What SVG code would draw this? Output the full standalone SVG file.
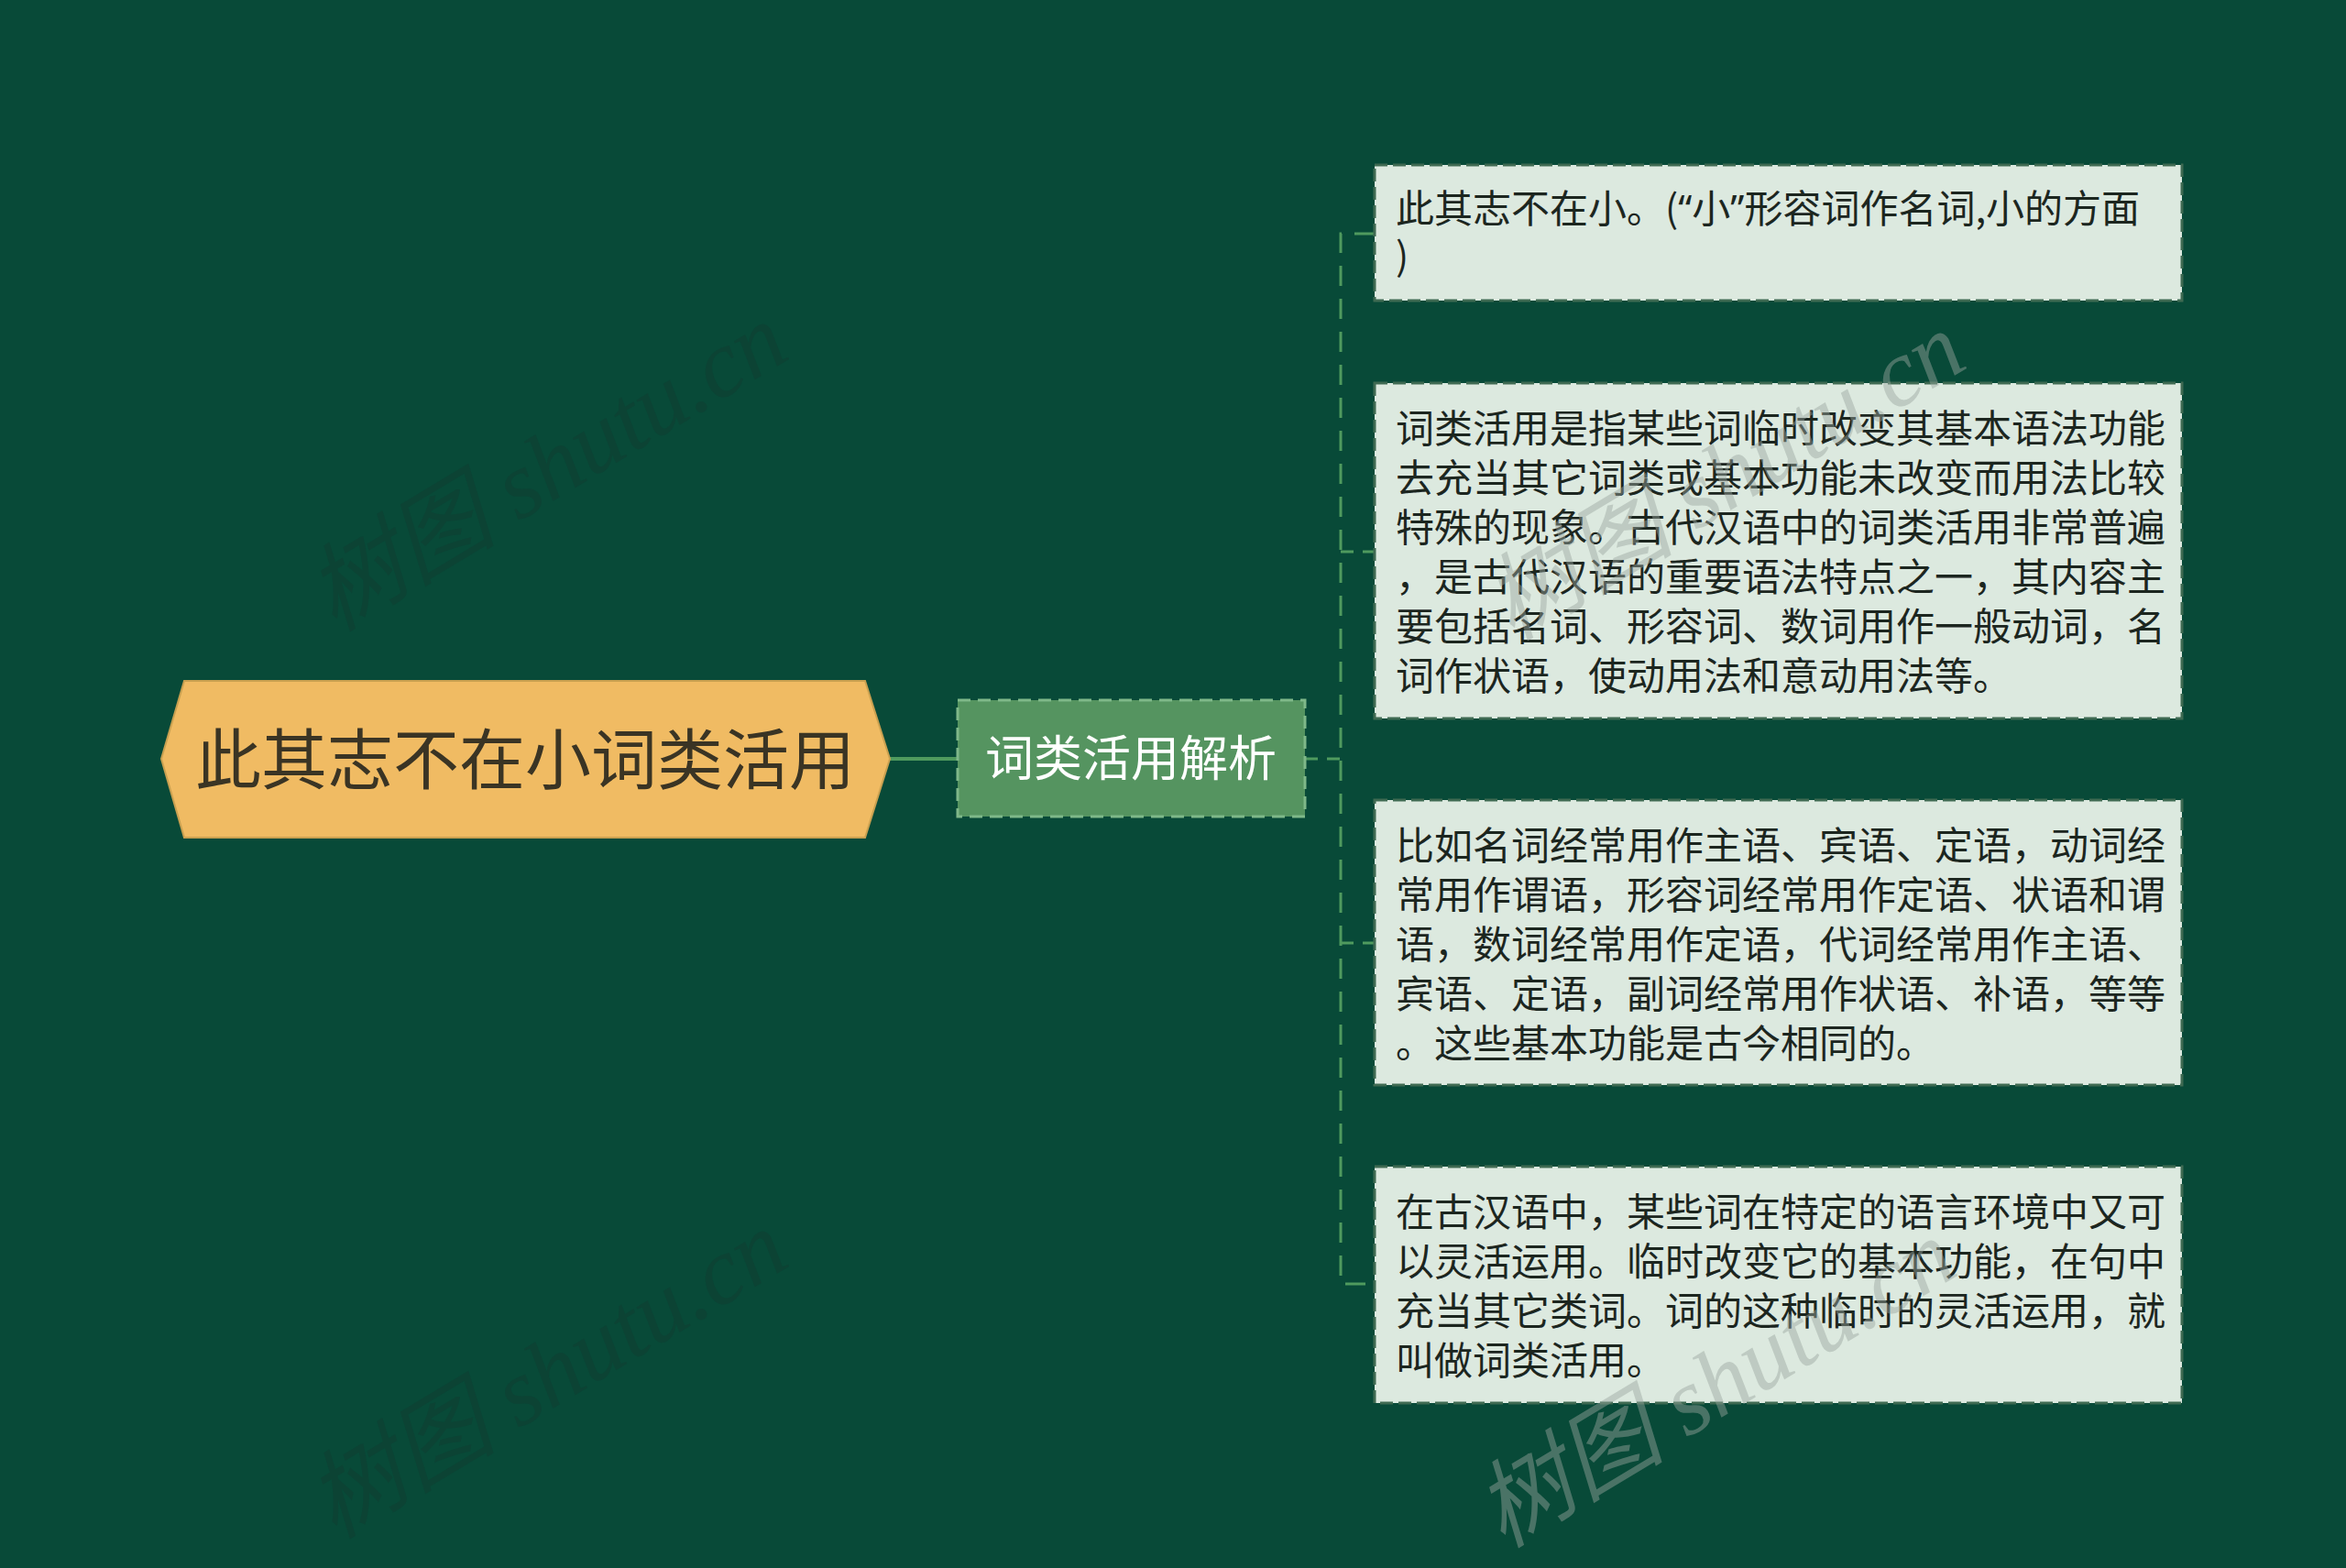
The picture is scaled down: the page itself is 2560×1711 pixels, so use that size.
<svg xmlns="http://www.w3.org/2000/svg" width="2560" height="1711" viewBox="0 0 2560 1711">
<style>
.bg{fill:#084a38}
.wm{font-family:"Liberation Serif","Noto Sans CJK SC",serif;font-size:104px;font-style:italic}
.wmd{fill:#0f3f33;opacity:0.6}
.wml{fill:#9aa69f;opacity:0.45}
.conn{fill:none;stroke:#4f9a5e;stroke-width:4}
.dash{stroke-dasharray:22 14}
.leaf{fill:#dce9df;stroke:#3f6a52;stroke-width:3;stroke-dasharray:14 6}
.lt{font-family:"Noto Sans CJK SC","Noto Sans",sans-serif;font-size:42px;fill:#1c261f}
.q{font-family:"Noto Sans",sans-serif}
</style>
<rect class="bg" x="0" y="0" width="2560" height="1711"/>
<g id="watermarks">
<text class="wm wmd" transform="translate(365,690) rotate(-31)">树图 shutu.cn</text>
<text class="wm wmd" transform="translate(365,1680) rotate(-31)">树图 shutu.cn</text>
</g>
<g id="connectors">
<line class="conn" x1="971" y1="828" x2="1045" y2="828"/>
<line class="conn" x1="1424" y1="828" x2="1463" y2="828" style="stroke-width:3;stroke-dasharray:14 10"/>
<path class="conn dash" d="M1500 255 H1463 V1401 H1500" style="stroke-width:3"/>
<line class="conn" x1="1463" y1="602" x2="1500" y2="602" style="stroke-width:3;stroke-dasharray:14 10"/>
<line class="conn" x1="1463" y1="1029" x2="1500" y2="1029" style="stroke-width:3;stroke-dasharray:14 10"/>
</g>
<g id="root">
<polygon points="176,828 201,743 944,743 971,828 944,914 201,914" fill="#f0bb63" stroke="#c9a050" stroke-width="2"/>
<text x="573" y="855" text-anchor="middle" font-family="Noto Sans CJK SC,Noto Sans,sans-serif" font-size="72" fill="#3a3424">此其志不在小词类活用</text>
</g>
<g id="sub">
<rect x="1045" y="764" width="379" height="127" fill="#559460" stroke="#7fb889" stroke-width="3" stroke-dasharray="14 8"/>
<text x="1234" y="847" text-anchor="middle" font-family="Noto Sans CJK SC,Noto Sans,sans-serif" font-size="53" fill="#ffffff">词类活用解析</text>
</g>
<g id="leaf1">
<rect class="leaf" x="1500" y="180" width="881" height="148"/>
<text class="lt" x="1523" y="243">此其志不在小。(<tspan class="q">“</tspan>小<tspan class="q">”</tspan>形容词作名词,小的方面</text>
<text class="lt" x="1523" y="295">)</text>
</g>
<g id="leaf2">
<rect class="leaf" x="1500" y="418" width="881" height="366"/>
<text class="lt" x="1523" y="483">词类活用是指某些词临时改变其基本语法功能</text>
<text class="lt" x="1523" y="537">去充当其它词类或基本功能未改变而用法比较</text>
<text class="lt" x="1523" y="591">特殊的现象。古代汉语中的词类活用非常普遍</text>
<text class="lt" x="1523" y="645">，是古代汉语的重要语法特点之一，其内容主</text>
<text class="lt" x="1523" y="699">要包括名词、形容词、数词用作一般动词，名</text>
<text class="lt" x="1523" y="753">词作状语，使动用法和意动用法等。</text>
</g>
<g id="leaf3">
<rect class="leaf" x="1500" y="873" width="881" height="311"/>
<text class="lt" x="1523" y="938">比如名词经常用作主语、宾语、定语，动词经</text>
<text class="lt" x="1523" y="992">常用作谓语，形容词经常用作定语、状语和谓</text>
<text class="lt" x="1523" y="1046">语，数词经常用作定语，代词经常用作主语、</text>
<text class="lt" x="1523" y="1100">宾语、定语，副词经常用作状语、补语，等等</text>
<text class="lt" x="1523" y="1154">。这些基本功能是古今相同的。</text>
</g>
<g id="leaf4">
<rect class="leaf" x="1500" y="1273" width="881" height="258"/>
<text class="lt" x="1523" y="1338">在古汉语中，某些词在特定的语言环境中又可</text>
<text class="lt" x="1523" y="1392">以灵活运用。临时改变它的基本功能，在句中</text>
<text class="lt" x="1523" y="1446">充当其它类词。词的这种临时的灵活运用，就</text>
<text class="lt" x="1523" y="1500">叫做词类活用。</text>
</g>
<g id="watermarks-top">
<text class="wm wml" transform="translate(1650,700) rotate(-31)">树图 shutu.cn</text>
<text class="wm wml" transform="translate(1640,1690) rotate(-31)">树图 shutu.cn</text>
</g>
</svg>
